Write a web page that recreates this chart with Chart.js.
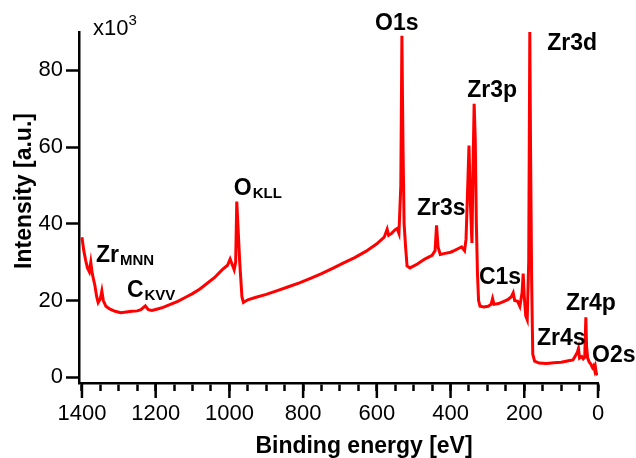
<!DOCTYPE html>
<html>
<head>
<meta charset="utf-8">
<script src="https://cdn.jsdelivr.net/npm/chart.js@4.4.1/dist/chart.umd.min.js"></script>
<style>
  html, body { margin: 0; padding: 0; background: #fff; }
  #wrap { width: 636px; height: 458px; }
</style>
</head>
<body>
<div id="wrap"><canvas id="xps" width="636" height="458"></canvas></div>
<script>
// XPS survey spectrum, intensity in units of 10^3
const energies = [
  1400, 1395, 1390, 1385, 1380, 1376, 1372, 1365, 1360, 1356, 1350, 1346, 1342, 1335, 1325,
  1310, 1295, 1280, 1265, 1250, 1240, 1228, 1220, 1210, 1195, 1180, 1160, 1140, 1120, 1100,
  1080, 1060, 1040, 1020, 1005, 998, 993, 987, 983, 980, 977, 972, 966, 962, 950,
  930, 900, 870, 840, 810, 780, 750, 720, 690, 660, 630, 600, 580, 572, 568,
  560, 550, 545, 540, 535, 532, 529, 526, 522, 518, 510, 490, 470, 450, 442,
  438, 434, 428, 415, 400, 390, 380, 370, 362, 358, 354, 350, 346, 342, 339,
  336, 333, 330, 327, 324, 320, 310, 298, 290, 286, 282, 270, 255, 245, 235,
  230, 226, 218, 212, 206, 203, 200, 196, 192, 188, 185, 183, 180, 177, 172,
  160, 140, 120, 100, 80, 68, 62, 56, 53, 50, 44, 40, 36, 33, 31,
  28, 24, 20, 15, 12, 9, 7, 5, 2
];
const intensity = [
  36.5, 33, 30.5, 28.5, 27.5, 30, 27, 24, 21, 19.5, 20.5, 22.5, 20, 18.5, 17.8,
  17.2, 16.8, 17, 17.2, 17.3, 17.6, 18.6, 17.6, 17.4, 17.8, 18.2, 19, 19.8, 20.8, 21.8,
  23, 24.5, 26, 28, 29.2, 30.8, 29.5, 28, 30, 45.8, 40, 30, 21, 19.5, 20.2,
  20.8, 21.6, 22.6, 23.6, 24.6, 25.8, 27, 28.4, 29.8, 31.2, 32.8, 34.8, 36.5, 38.6, 37,
  37.5, 38.5, 38.8, 37.5, 50, 89, 60, 40, 34, 29, 28.5, 29.5, 30.8, 31.8, 33,
  39.6, 34, 32, 32.3, 32.6, 33, 33.5, 34, 33, 36, 48, 60.4, 45, 35, 55,
  71.3, 62, 40, 27, 20, 18.5, 18.3, 18.5, 19, 20.5, 19, 19.2, 19.8, 20.2, 21,
  22, 20, 19.8, 18.5, 22, 27, 21, 16, 15, 30, 90, 60, 25, 6, 4.2,
  3.7, 3.6, 3.8, 3.9, 4.3, 4.5, 5.5, 6.5, 7.5, 5, 5.4, 4.8, 5.2, 15.6, 8,
  5, 4, 3.5, 2.5, 3, 1.8, 2.6, 1.2, 0.5
];

const xMajorTicks = [1400, 1200, 1000, 800, 600, 400, 200, 0];
const xMinorTicks = [1350, 1300, 1250, 1150, 1100, 1050, 950, 900, 850, 750, 700, 650,
  550, 500, 450, 350, 300, 250, 150, 100, 50];
const yTicks = [0, 20, 40, 60, 80];

// peak labels: [main text, subscript, energy, intensity] (left edge / baseline)
const peakLabels = [
  ['O1s', '', 605, 90.4],
  ['Zr3d', '', 138, 85.2],
  ['Zr3p', '', 355, 73],
  ['Zr3s', '', 491, 42.2],
  ['O', 'KLL', 988, 47.4],
  ['Zr', 'MNN', 1362, 30],
  ['C', 'KVV', 1278, 20.8],
  ['C1s', '', 323, 24.2],
  ['Zr4p', '', 87, 17.5],
  ['Zr4s', '', 165.5, 8.3],
  ['O2s', '', 16, 3.9]
];

const FONT = '"Liberation Sans", Arial, sans-serif';

const points = energies.map((e, i) => ({ x: e, y: intensity[i] }));
const allXTicks = xMajorTicks.concat(xMinorTicks).sort((a, b) => b - a);

// longer major ticks, peak labels, axis titles and multiplier
const extras = {
  id: 'extras',
  afterDraw(chart) {
    const ctx = chart.ctx;
    const xs = chart.scales.x, ys = chart.scales.y;
    const axisY = ys.getPixelForValue(ys.min);
    ctx.save();
    ctx.fillStyle = '#000';
    ctx.strokeStyle = '#000';
    ctx.lineWidth = 2.5;
    xMajorTicks.forEach(v => {
      const px = xs.getPixelForValue(v);
      ctx.beginPath();
      ctx.moveTo(px, axisY);
      ctx.lineTo(px, axisY + 15);
      ctx.stroke();
    });

    ctx.textBaseline = 'alphabetic';
    ctx.textAlign = 'left';
    peakLabels.forEach(([main, sub, e, v]) => {
      const px = xs.getPixelForValue(e);
      const py = ys.getPixelForValue(v);
      ctx.font = 'bold 23px ' + FONT;
      ctx.fillText(main, px, py);
      if (sub) {
        const w = ctx.measureText(main).width;
        ctx.font = 'bold 15px ' + FONT;
        ctx.fillText(sub, px + w + 1, py + 3);
      }
    });

    // x10^3
    ctx.font = '22px ' + FONT;
    ctx.fillText('x10', 93, 35);
    const w = ctx.measureText('x10').width;
    ctx.font = '15px ' + FONT;
    ctx.fillText('3', 93 + w, 25);

    // axis titles
    ctx.font = 'bold 23px ' + FONT;
    ctx.textAlign = 'center';
    ctx.fillText('Binding energy [eV]', 364, 453);
    ctx.translate(31, 191);
    ctx.rotate(-Math.PI / 2);
    ctx.fillText('Intensity [a.u.]', 0, 0);
    ctx.restore();
  }
};

new Chart(document.getElementById('xps'), {
  type: 'line',
  data: {
    datasets: [{
      data: points,
      borderColor: '#ff0000',
      borderWidth: 3,
      pointRadius: 0,
      tension: 0,
      fill: false
    }]
  },
  options: {
    responsive: false,
    animation: false,
    layout: { padding: { left: 0, right: 38, top: 32, bottom: 0 } },
    plugins: { legend: { display: false }, tooltip: { enabled: false } },
    scales: {
      x: {
        type: 'linear',
        reverse: true,
        min: 0,
        max: 1408,
        afterBuildTicks: s => { s.ticks = allXTicks.map(v => ({ value: v })); },
        afterFit: s => { s.height = 75; },
        border: { display: true, color: '#000', width: 2.5 },
        grid: { drawOnChartArea: false, drawTicks: true, tickLength: 8, tickColor: '#000', tickWidth: 2.5 },
        ticks: {
          color: '#000', font: { family: FONT, size: 22 }, padding: 10, maxRotation: 0, autoSkip: false,
          callback: v => (xMajorTicks.includes(v) ? String(v) : '')
        }
      },
      y: {
        type: 'linear',
        min: -1.5,
        max: 90,
        afterBuildTicks: s => { s.ticks = yTicks.map(v => ({ value: v })); },
        afterFit: s => { s.width = 79; },
        border: { display: true, color: '#000', width: 2.5 },
        grid: { drawOnChartArea: false, drawTicks: true, tickLength: 13, tickColor: '#000', tickWidth: 2.5 },
        ticks: { color: '#000', font: { family: FONT, size: 22 }, padding: 3, callback: v => String(v) }
      }
    }
  },
  plugins: [extras]
});
</script>
</body>
</html>
